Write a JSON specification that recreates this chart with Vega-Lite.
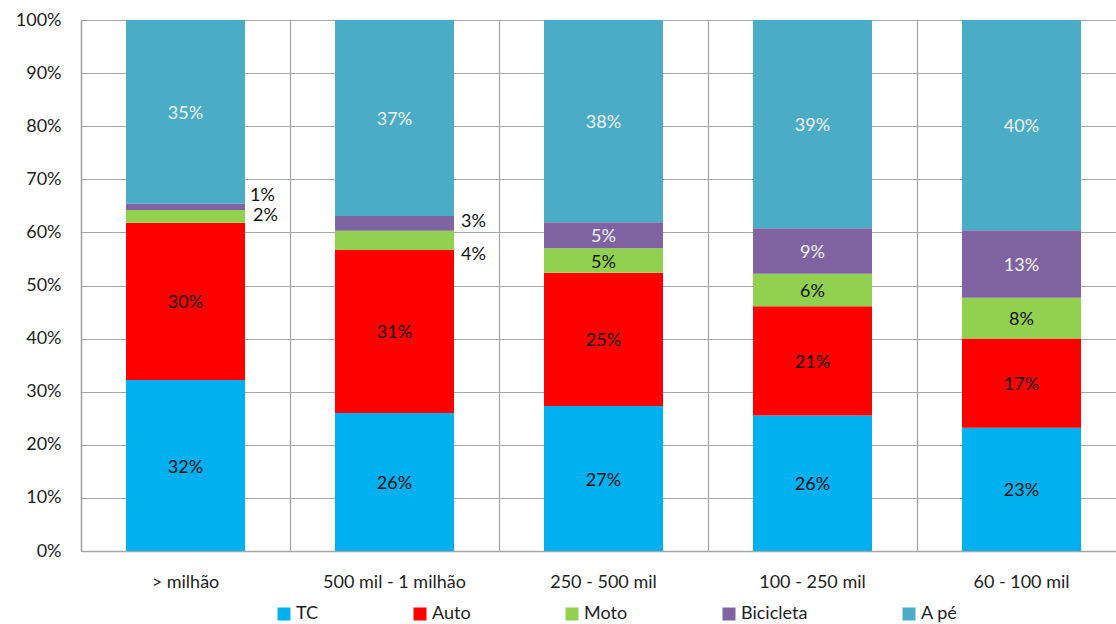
{
  "$schema": "https://vega.github.io/schema/vega-lite/v6.json",
  "width": 1035,
  "height": 531,
  "autosize": {"type": "none"},
  "padding": {"left": 81, "top": 20, "right": 0, "bottom": 73},
  "background": "white",
  "config": {
    "view": {"stroke": null},
    "font": "Lato",
    "axis": {"labelFont": "Lato", "labelFontSize": 18, "labelColor": "#1E1E1E"},
    "legend": {"labelFont": "Lato", "labelFontSize": 18, "labelColor": "#1E1E1E"}
  },
  "data": {
    "values": [
      {"cat": "> milhão", "mode": "TC", "value": 32.2},
      {"cat": "> milhão", "mode": "Auto", "value": 29.6},
      {"cat": "> milhão", "mode": "Moto", "value": 2.4},
      {"cat": "> milhão", "mode": "Bicicleta", "value": 1.2},
      {"cat": "> milhão", "mode": "A pé", "value": 34.6},
      {"cat": "500 mil - 1 milhão", "mode": "TC", "value": 26.0},
      {"cat": "500 mil - 1 milhão", "mode": "Auto", "value": 30.7},
      {"cat": "500 mil - 1 milhão", "mode": "Moto", "value": 3.6},
      {"cat": "500 mil - 1 milhão", "mode": "Bicicleta", "value": 2.8},
      {"cat": "500 mil - 1 milhão", "mode": "A pé", "value": 36.9},
      {"cat": "250 - 500 mil", "mode": "TC", "value": 27.3},
      {"cat": "250 - 500 mil", "mode": "Auto", "value": 25.1},
      {"cat": "250 - 500 mil", "mode": "Moto", "value": 4.6},
      {"cat": "250 - 500 mil", "mode": "Bicicleta", "value": 4.9},
      {"cat": "250 - 500 mil", "mode": "A pé", "value": 38.1},
      {"cat": "100 - 250 mil", "mode": "TC", "value": 25.5},
      {"cat": "100 - 250 mil", "mode": "Auto", "value": 20.6},
      {"cat": "100 - 250 mil", "mode": "Moto", "value": 6.1},
      {"cat": "100 - 250 mil", "mode": "Bicicleta", "value": 8.6},
      {"cat": "100 - 250 mil", "mode": "A pé", "value": 39.2},
      {"cat": "60 - 100 mil", "mode": "TC", "value": 23.2},
      {"cat": "60 - 100 mil", "mode": "Auto", "value": 16.8},
      {"cat": "60 - 100 mil", "mode": "Moto", "value": 7.7},
      {"cat": "60 - 100 mil", "mode": "Bicicleta", "value": 12.7},
      {"cat": "60 - 100 mil", "mode": "A pé", "value": 39.6}
    ]
  },
  "transform": [
    {"calculate": "indexof(['TC','Auto','Moto','Bicicleta','A pé'], datum.mode)", "as": "ord"},
    {"stack": "value", "groupby": ["cat"], "sort": [{"field": "ord", "order": "ascending"}], "as": ["v0", "v1"]},
    {"calculate": "(datum.v0 + datum.v1) / 2", "as": "mid"},
    {"calculate": "format(datum.value, '.0f') + '%'", "as": "label"}
  ],
  "encoding": {
    "x": {
      "field": "cat",
      "type": "nominal",
      "sort": ["> milhão", "500 mil - 1 milhão", "250 - 500 mil", "100 - 250 mil", "60 - 100 mil"],
      "scale": {"range": [0, 1045], "paddingInner": 0, "paddingOuter": 0},
      "axis": {
        "title": null,
        "labelAngle": 0,
        "ticks": false,
        "labelPadding": 22,
        "grid": true,
        "bandPosition": 0,
        "gridColor": "#A6A6A6",
        "gridWidth": 1.2,
        "domainColor": "#A6A6A6",
        "domainWidth": 1.5
      }
    }
  },
  "layer": [
    {
      "mark": {"type": "bar", "width": 119},
      "encoding": {
        "y": {
          "field": "v0",
          "type": "quantitative",
          "scale": {"domain": [0, 100], "nice": false},
          "axis": {
            "title": null,
            "values": [0, 10, 20, 30, 40, 50, 60, 70, 80, 90, 100],
            "labelExpr": "datum.value + '%'",
            "ticks": false,
            "labelPadding": 20,
            "gridColor": "#A6A6A6",
            "gridWidth": 1.2,
            "domainColor": "#A6A6A6",
            "domainWidth": 1.5
          }
        },
        "y2": {"field": "v1"},
        "color": {
          "field": "mode",
          "type": "nominal",
          "scale": {
            "domain": ["TC", "Auto", "Moto", "Bicicleta", "A pé"],
            "range": ["#00B0F0", "#FF0000", "#92D050", "#8064A2", "#4BACC6"]
          },
          "legend": {
            "title": null,
            "orient": "none",
            "legendX": 194,
            "legendY": 585,
            "direction": "horizontal",
            "columns": 5,
            "columnPadding": 92,
            "symbolType": "square",
            "symbolSize": 169,
            "symbolStrokeWidth": 0,
            "labelOffset": 3,
            "padding": 0
          }
        }
      }
    },
    {
      "transform": [{"filter": "datum.value >= 4"}],
      "mark": {"type": "text", "fontSize": 18, "baseline": "middle", "align": "center", "dy": 2},
      "encoding": {
        "y": {"field": "mid", "type": "quantitative"},
        "text": {"field": "label"},
        "color": {
          "condition": {"test": "datum.mode == 'Bicicleta' || datum.mode == 'A pé'", "value": "#F2F2F2"},
          "value": "#111111"
        }
      }
    },
    {
      "transform": [{"filter": "datum.value < 4 && datum.mode == 'Bicicleta' && datum.cat == '> milhão'"}],
      "mark": {"type": "text", "fontSize": 18, "baseline": "middle", "align": "center", "dx": 77, "dy": -11, "color": "#111111"},
      "encoding": {"y": {"field": "mid", "type": "quantitative"}, "text": {"field": "label"}}
    },
    {
      "transform": [{"filter": "datum.value < 4 && datum.mode == 'Moto' && datum.cat == '> milhão'"}],
      "mark": {"type": "text", "fontSize": 18, "baseline": "middle", "align": "center", "dx": 80, "dy": 0, "color": "#111111"},
      "encoding": {"y": {"field": "mid", "type": "quantitative"}, "text": {"field": "label"}}
    },
    {
      "transform": [{"filter": "datum.value < 4 && datum.mode == 'Bicicleta' && datum.cat == '500 mil - 1 milhão'"}],
      "mark": {"type": "text", "fontSize": 18, "baseline": "middle", "align": "center", "dx": 79, "dy": -1, "color": "#111111"},
      "encoding": {"y": {"field": "mid", "type": "quantitative"}, "text": {"field": "label"}}
    },
    {
      "transform": [{"filter": "datum.value < 4 && datum.mode == 'Moto' && datum.cat == '500 mil - 1 milhão'"}],
      "mark": {"type": "text", "fontSize": 18, "baseline": "middle", "align": "center", "dx": 79, "dy": 15, "color": "#111111"},
      "encoding": {"y": {"field": "mid", "type": "quantitative"}, "text": {"field": "label"}}
    }
  ]
}
